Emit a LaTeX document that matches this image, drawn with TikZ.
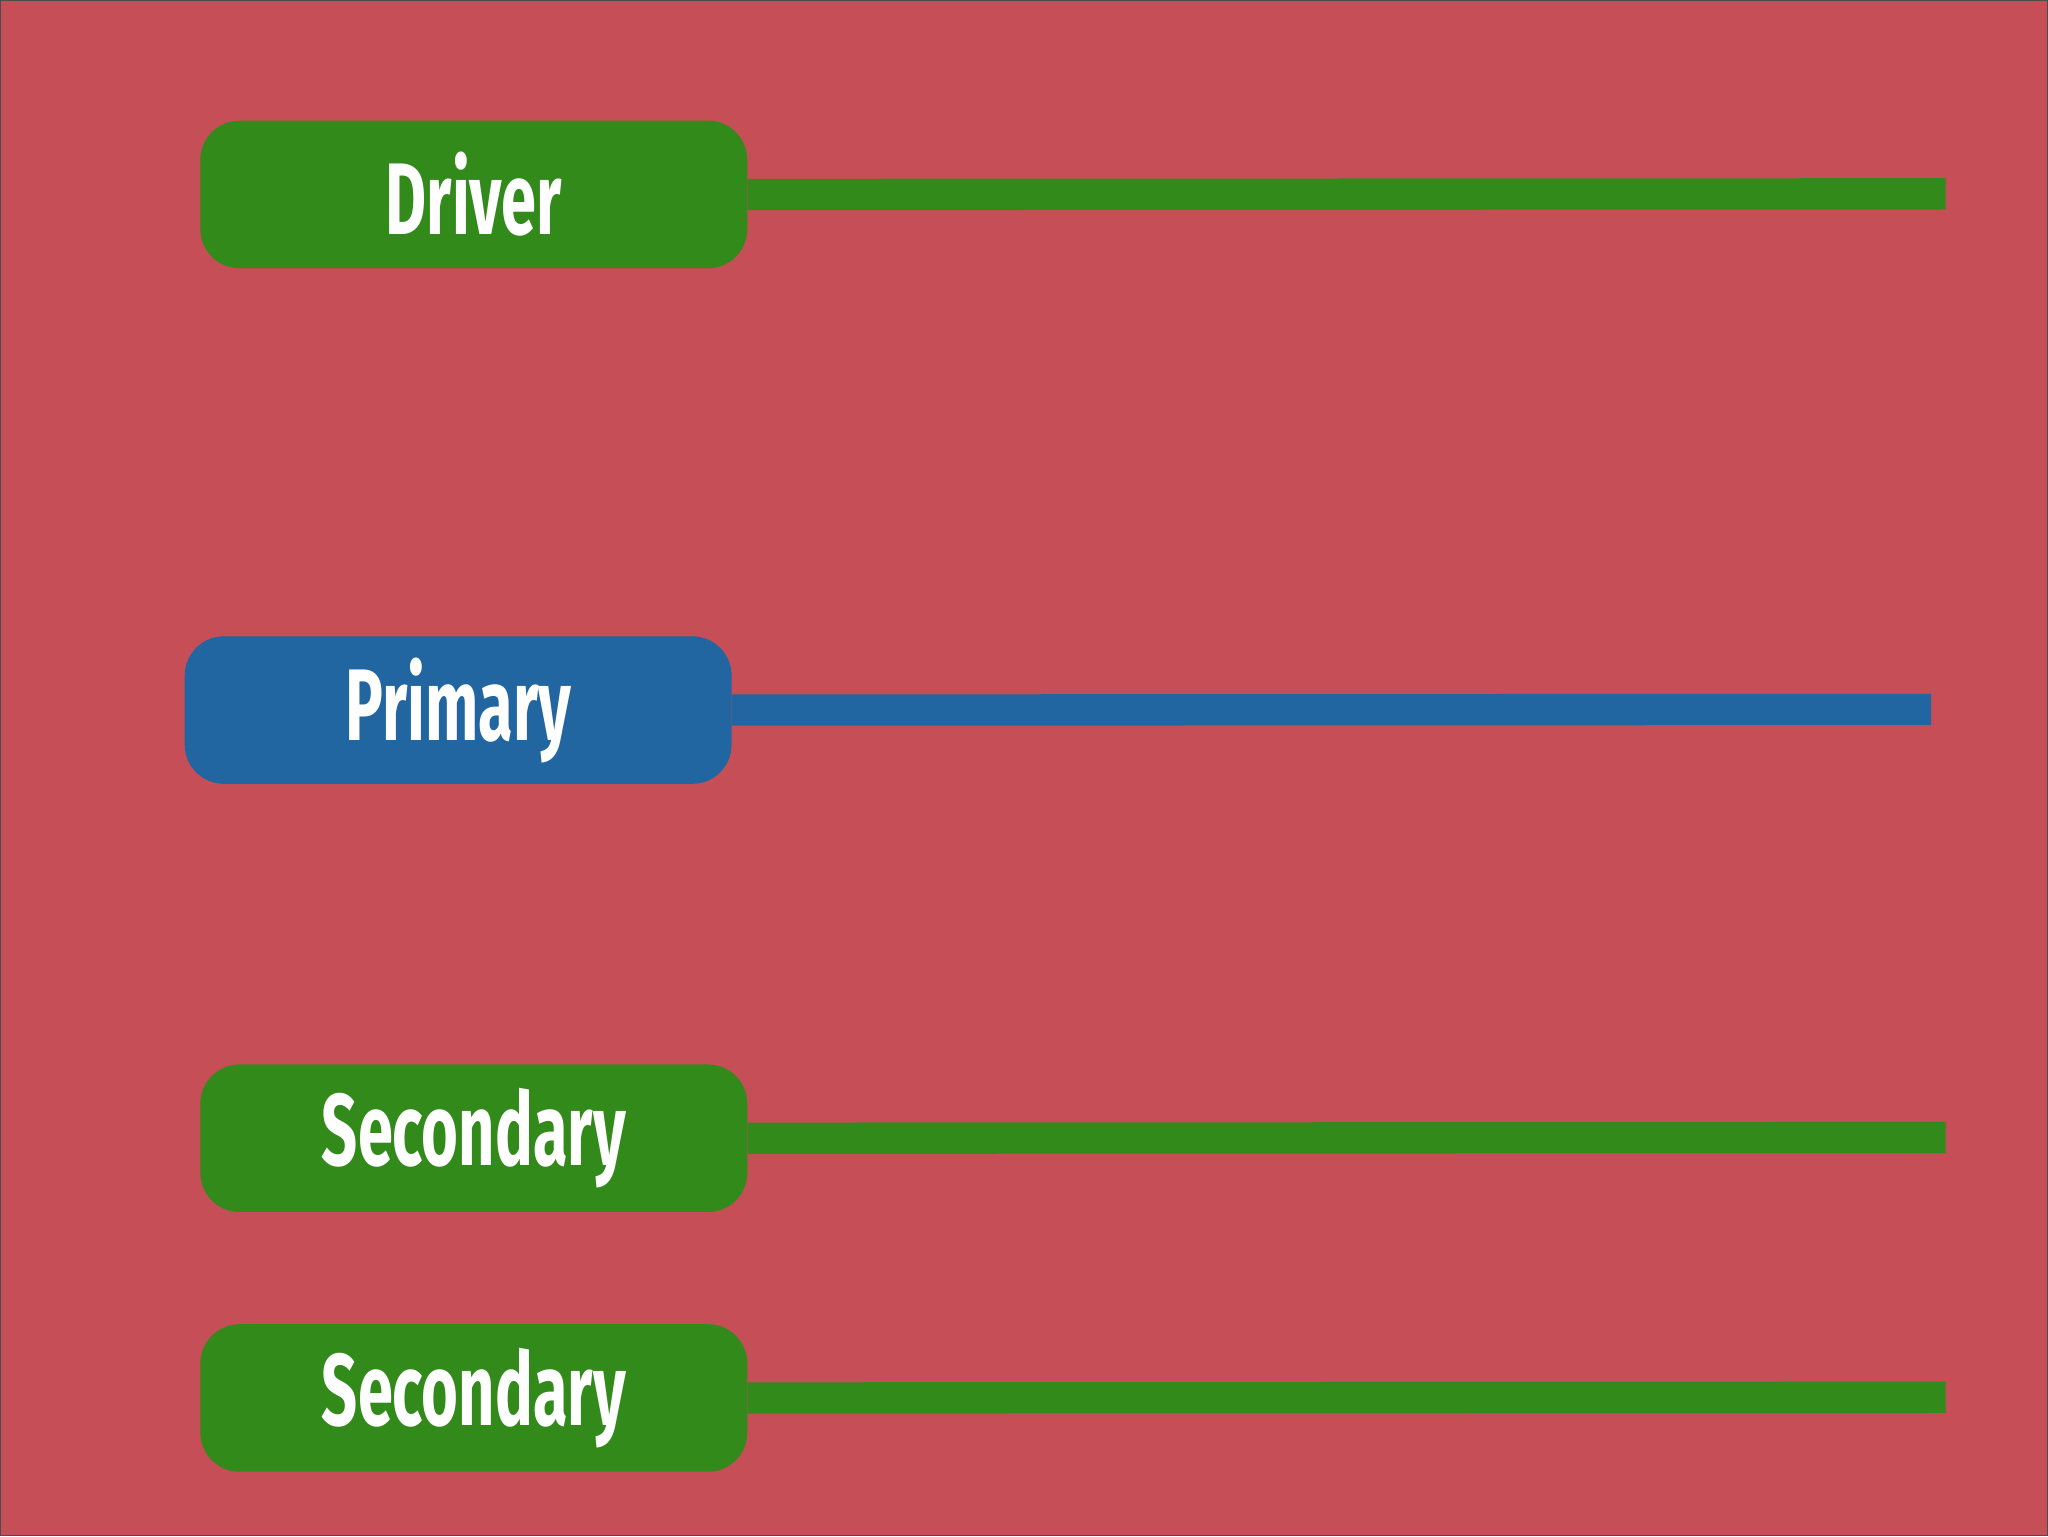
\documentclass[tikz,border=0pt]{standalone}
\usepackage{fontspec}
\setmainfont{Fira Sans}
\usepackage{graphicx}
\definecolor{bg}{HTML}{C54E57}
\definecolor{gr}{HTML}{328A1A}
\definecolor{bl}{HTML}{2166A0}
\begin{document}
\begin{tikzpicture}[x=1pt,y=-1pt,
  lbl/.style={rounded corners=30pt,minimum width=419pt,minimum height=113pt,inner sep=0pt,text=white,font=\fontsize{78}{80}\selectfont\bfseries},
  bar/.style={line width=24pt}]
\fill[bg,draw=black!70,line width=1pt] (0,0) rectangle (1568,1176);
\useasboundingbox (0,0) rectangle (1568,1176);
\node[lbl,fill=gr] (d) at (362.5,148.5) {\scalebox{0.62}[1]{Driver}};
\coordinate (de) at (1490,148);
\draw[bar,gr] (d.east) -- (de);
\node[lbl,fill=bl] (p) at (350.5,543.5) {\scalebox{0.62}[1]{Primary}};
\coordinate (pe) at (1479,543);
\draw[bar,bl] (p.east) -- (pe);
\node[lbl,fill=gr] (s1) at (362.5,871.5) {\scalebox{0.62}[1]{Secondary}};
\coordinate (s1e) at (1490,871);
\draw[bar,gr] (s1.east) -- (s1e);
\node[lbl,fill=gr] (s2) at (362.5,1070.5) {\scalebox{0.62}[1]{Secondary}};
\coordinate (s2e) at (1490,1070);
\draw[bar,gr] (s2.east) -- (s2e);
\end{tikzpicture}
\end{document}
